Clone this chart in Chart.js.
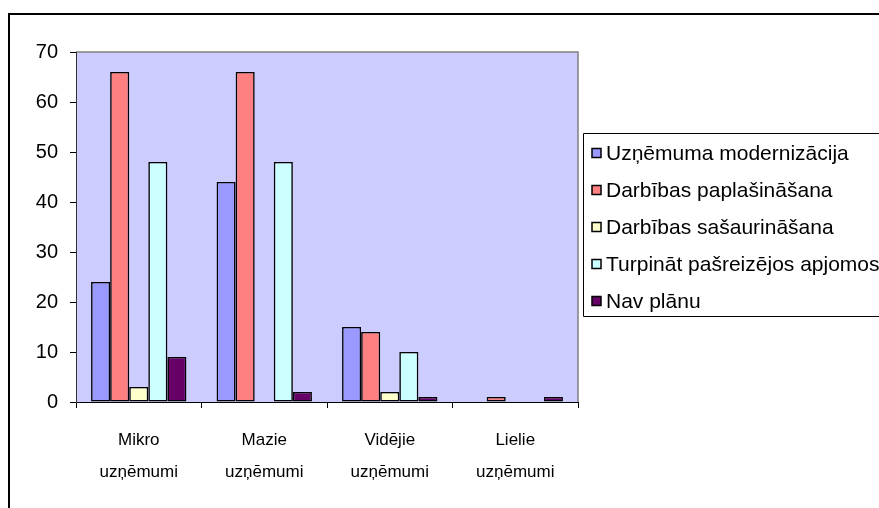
<!DOCTYPE html>
<html>
<head>
<meta charset="utf-8">
<script src="https://cdn.jsdelivr.net/npm/chart.js@4/dist/chart.umd.min.js"></script>
<style>
  html, body { margin: 0; padding: 0; background: #fff; }
  #wrap { width: 879px; height: 508px; }
</style>
</head>
<body>
<div id="wrap"><canvas id="barChart" width="879" height="508"></canvas></div>
<script>
// categories and series
var categories = [['Mikro', 'uzņēmumi'], ['Mazie', 'uzņēmumi'], ['Vidējie', 'uzņēmumi'], ['Lielie', 'uzņēmumi']];
var seriesNames = ['Uzņēmuma modernizācija', 'Darbības paplašināšana', 'Darbības sašaurināšana', 'Turpināt pašreizējos apjomos', 'Nav plānu'];
var modernizacija = [24, 44, 15, 0];
var paplasinasana = [66, 66, 14, 1];
var sasaurinasana = [3, 0, 2, 0];
var turpinat = [48, 48, 10, 0];
var navPlanu = [9, 2, 1, 1];
var yTicks = [0, 10, 20, 30, 40, 50, 60, 70];

var colors = ['#9999FF', '#FF8080', '#FFFFCC', '#CCFFFF', '#660066'];
var seriesData = [modernizacija, paplasinasana, sasaurinasana, turpinat, navPlanu];
var font = "'Liberation Sans', Arial, sans-serif";

var datasets = seriesNames.map(function (name, i) {
  return {
    label: name,
    data: seriesData[i],
    backgroundColor: colors[i],
    borderColor: '#000',
    borderWidth: 1.6,
    borderSkipped: false
  };
});

// frame, plot background and legend box like the old office chart
var decor = {
  id: 'decor',
  beforeDraw: function (chart) {
    var ctx = chart.ctx, a = chart.chartArea;
    ctx.save();
    ctx.fillStyle = '#fff';
    ctx.fillRect(0, 0, chart.width, chart.height);
    ctx.fillStyle = '#CCCCFF';
    ctx.fillRect(a.left, a.top, a.right - a.left, a.bottom - a.top);
    ctx.strokeStyle = '#808080';
    ctx.lineWidth = 1.5;
    ctx.beginPath();
    ctx.moveTo(a.left, a.top);
    ctx.lineTo(a.right, a.top);
    ctx.lineTo(a.right, a.bottom);
    ctx.stroke();
    // outer chart border
    ctx.strokeStyle = '#000';
    ctx.lineWidth = 2;
    ctx.beginPath();
    ctx.moveTo(9, chart.height + 5);
    ctx.lineTo(9, 14);
    ctx.lineTo(chart.width + 5, 14);
    ctx.stroke();
    ctx.restore();
  },
  afterDraw: function (chart) {
    var ctx = chart.ctx;
    var x0 = 583, y0 = 133, y1 = 316;
    ctx.save();
    ctx.strokeStyle = '#000';
    ctx.lineWidth = 1;
    ctx.beginPath();
    ctx.moveTo(chart.width + 5, y0 + 0.5);
    ctx.lineTo(x0 + 0.5, y0 + 0.5);
    ctx.lineTo(x0 + 0.5, y1 + 0.5);
    ctx.lineTo(chart.width + 5, y1 + 0.5);
    ctx.stroke();
    ctx.font = '21px ' + font;
    ctx.textBaseline = 'middle';
    chart.data.datasets.forEach(function (ds, i) {
      var cy = 153 + i * 37;
      ctx.fillStyle = ds.backgroundColor;
      ctx.fillRect(592, cy - 4.5, 9, 9);
      ctx.strokeStyle = '#000';
      ctx.lineWidth = 1.5;
      ctx.strokeRect(592, cy - 4.5, 9, 9);
      ctx.fillStyle = '#000';
      ctx.fillText(ds.label, 606, cy + 1);
    });
    ctx.restore();
  }
};

var ctx = document.getElementById('barChart').getContext('2d');
var chart = new Chart(ctx, {
  type: 'bar',
  data: { labels: categories, datasets: datasets },
  options: {
    responsive: false,
    animation: false,
    layout: { padding: { left: 0, top: 52, right: 301, bottom: 0 } },
    plugins: { legend: { display: false }, tooltip: { enabled: false } },
    datasets: { bar: { categoryPercentage: 0.76, barPercentage: 1.0 } },
    scales: {
      x: {
        offset: true,
        grid: { offset: true, drawOnChartArea: false, color: '#000', tickLength: 6 },
        border: { color: '#000', width: 1 },
        ticks: { color: '#000', font: { family: font, size: 17, lineHeight: 1.88 }, maxRotation: 0, padding: 16 },
        afterFit: function (s) { s.height = 106; }
      },
      y: {
        min: 0,
        max: 70,
        afterBuildTicks: function (s) { s.ticks = yTicks.map(function (v) { return { value: v }; }); },
        grid: { drawOnChartArea: false, color: '#000', tickLength: 6 },
        border: { color: '#333', width: 1 },
        ticks: { color: '#000', font: { family: font, size: 20 }, padding: 12 },
        afterFit: function (s) { s.width = 76; }
      }
    }
  },
  plugins: [decor]
});
</script>
</body>
</html>
